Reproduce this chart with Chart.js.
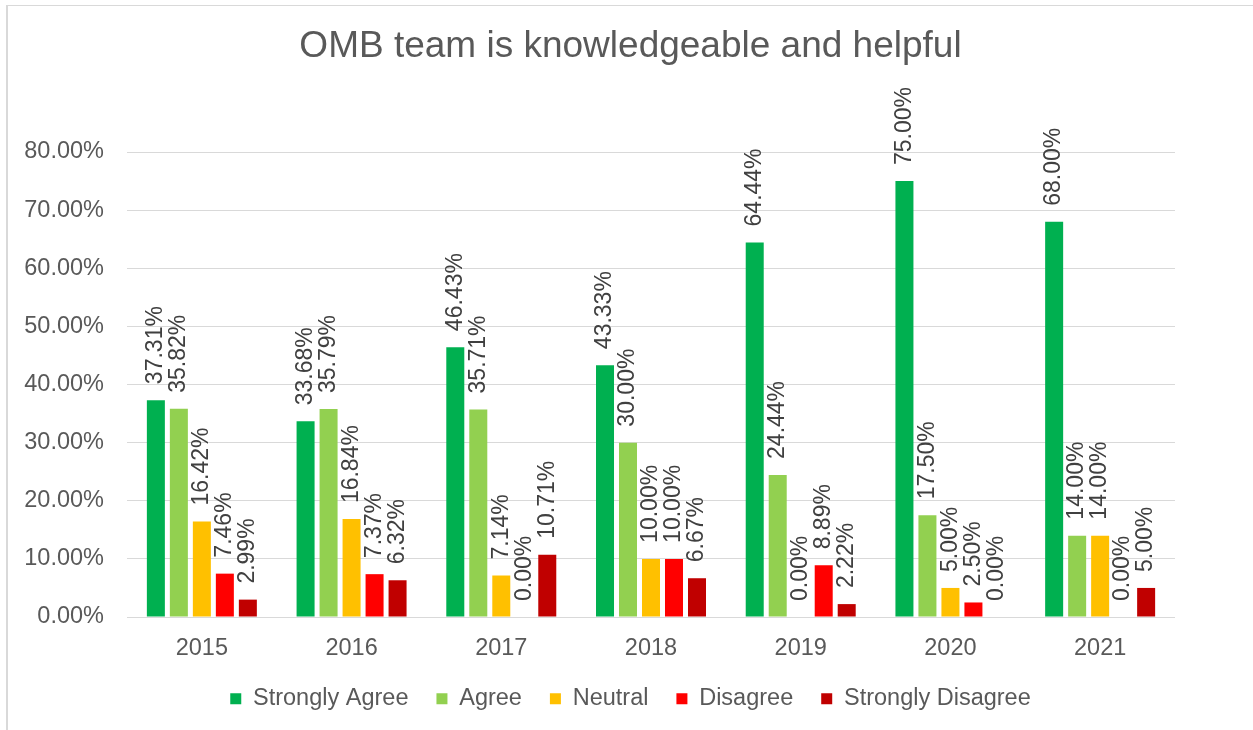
<!DOCTYPE html>
<html>
<head>
<meta charset="utf-8">
<script src="https://cdn.jsdelivr.net/npm/chart.js@4/dist/chart.umd.min.js"></script>
<style>
  html, body { margin: 0; padding: 0; background: #fff; overflow: hidden; }
  #frame {
    position: absolute; left: 6px; top: 5px; width: 1400px; height: 900px;
    border-left: 2px solid #d9d9d9; border-top: 1px solid #d9d9d9;
  }
  #wrap { position: absolute; left: 0; top: 0; width: 1253px; height: 730px; }
</style>
</head>
<body>
<div id="frame"></div>
<div id="wrap"><canvas id="myChart"></canvas></div>
<script>
// dados do grafico
var anos = ["2015", "2016", "2017", "2018", "2019", "2020", "2021"];
var stronglyAgree = [37.31, 33.68, 46.43, 43.33, 64.44, 75.00, 68.00];
var agree = [35.82, 35.79, 35.71, 30.00, 24.44, 17.50, 14.00];
var neutral = [16.42, 16.84, 7.14, 10.00, 0.00, 5.00, 14.00];
var disagree = [7.46, 7.37, 0.00, 10.00, 8.89, 2.50, 0.00];
var stronglyDisagree = [2.99, 6.32, 10.71, 6.67, 2.22, 0.00, 5.00];

var fonte = '"Liberation Sans", Arial, sans-serif';

// rotulos verticais em cima das barras
const rotulos = {
  id: 'rotulos',
  afterDatasetsDraw(chart) {
    const ctx = chart.ctx;
    ctx.save();
    ctx.font = '23px ' + fonte;
    ctx.fillStyle = '#404040';
    ctx.textAlign = 'left';
    ctx.textBaseline = 'middle';
    chart.data.datasets.forEach(function(ds, i) {
      const meta = chart.getDatasetMeta(i);
      meta.data.forEach(function(bar, j) {
        ctx.save();
        ctx.translate(bar.x, bar.y - 16);
        ctx.rotate(-Math.PI / 2);
        ctx.fillText(ds.data[j].toFixed(2) + '%', 0, 0);
        ctx.restore();
      });
    });
    ctx.restore();
  }
};

const config = {
  type: 'bar',
  data: {
    labels: anos,
    datasets: [
      { label: 'Strongly Agree', data: stronglyAgree, backgroundColor: '#00b050' },
      { label: 'Agree', data: agree, backgroundColor: '#92d050' },
      { label: 'Neutral', data: neutral, backgroundColor: '#ffc000' },
      { label: 'Disagree', data: disagree, backgroundColor: '#ff0000' },
      { label: 'Strongly Disagree', data: stronglyDisagree, backgroundColor: '#c00000' }
    ]
  },
  options: {
    responsive: true,
    maintainAspectRatio: false,
    animation: false,
    datasets: {
      bar: { categoryPercentage: 0.768, barPercentage: 0.783, borderWidth: 0 }
    },
    layout: { padding: { left: 8, right: 0, top: 0, bottom: 9.5 } },
    plugins: {
      tooltip: { enabled: false },
      title: {
        display: true,
        text: 'OMB team is knowledgeable and helpful',
        color: '#595959',
        font: { family: fonte, size: 37, weight: 'normal' },
        padding: { top: 25, bottom: 82.6 }
      },
      legend: {
        position: 'bottom',
        labels: {
          color: '#595959',
          font: { family: fonte, size: 23.5 },
          boxWidth: 11,
          boxHeight: 11,
          padding: 28
        }
      }
    },
    scales: {
      x: {
        grid: { display: false },
        border: { display: false },
        ticks: { color: '#595959', font: { family: fonte, size: 23.5 }, padding: 9 },
        afterFit: function(s) { s.height = 42; }
      },
      y: {
        min: 0,
        max: 80,
        grid: { color: '#d9d9d9', drawTicks: false },
        border: { display: false },
        ticks: {
          stepSize: 10,
          color: '#595959',
          font: { family: fonte, size: 23.5 },
          padding: 23,
          callback: function(v) { return v.toFixed(2) + '%'; }
        },
        afterFit: function(s) { s.width = 119; }
      },
      y2: {
        position: 'right',
        grid: { display: false },
        border: { display: false },
        ticks: { display: false },
        afterFit: function(s) { s.width = 78; }
      }
    }
  },
  plugins: [rotulos]
};

var grafico = new Chart(document.getElementById('myChart'), config);
</script>
</body>
</html>
